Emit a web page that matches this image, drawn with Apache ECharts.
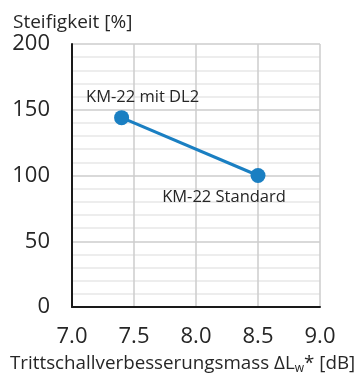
<!DOCTYPE html>
<html>
<head>
<meta charset="utf-8">
<script src="https://cdn.jsdelivr.net/npm/echarts@6/dist/echarts.min.js"></script>
<style>
  html, body { margin: 0; padding: 0; background: #fff; }
  #chart { width: 357px; height: 376px; }
</style>
</head>
<body>
<div id="chart"></div>
<script>
// Stiffness vs. impact sound improvement for two KM-22 variants
const pointNames = ['KM-22 mit DL2', 'KM-22 Standard'];
const soundImprovement = [7.4, 8.5];   // ΔLw* [dB]
const stiffness = [144, 100];          // [%]
const labelOffsets = [[21, -20], [-34, 22]];

const xTicks = { min: 7.0, max: 9.0, interval: 0.5 };
const yTicks = { min: 0, max: 200, interval: 50 };

const FONT = '"Open Sans", "Noto Sans", sans-serif';
const TEXT = '#262626';
const BLUE = '#1a7fc2';

const chart = echarts.init(document.getElementById('chart'), null, { renderer: 'canvas' });

const seriesData = pointNames.map((name, i) => ({
  name: name,
  value: [soundImprovement[i], stiffness[i]],
  label: { offset: labelOffsets[i] }
}));

chart.setOption({
  animation: false,
  backgroundColor: '#fff',
  title: [{
    // y-axis caption
    text: 'Steifigkeit [%]',
    left: 8,
    top: 8,
    textStyle: { fontFamily: FONT, fontSize: 19, fontWeight: 'normal', color: TEXT }
  }, {
    // x-axis caption with subscript w
    text: '{a|Trittschallverbesserungsmass ΔL}{s|w}{a|* [dB]}',
    left: 5,
    top: 348,
    textStyle: {
      fontWeight: 'normal',
      rich: {
        a: { fontFamily: FONT, fontSize: 18.8, fontWeight: 'normal', color: TEXT },
        s: { fontFamily: FONT, fontSize: 12, fontWeight: 'normal', color: TEXT, padding: [10, 0, 0, 0] }
      }
    }
  }],
  grid: { left: 72, right: 37, top: 44, bottom: 69, outerBoundsMode: 'none', containLabel: false },
  xAxis: {
    type: 'value',
    min: xTicks.min,
    max: xTicks.max,
    interval: xTicks.interval,
    axisLine: { show: true, lineStyle: { color: '#1a1a1a', width: 2 } },
    axisTick: { show: false },
    axisLabel: {
      margin: 19,
      fontFamily: FONT, fontSize: 22, color: TEXT,
      formatter: v => v.toFixed(1)
    },
    splitLine: { show: true, lineStyle: { color: '#cccccc', width: 1.5 } }
  },
  yAxis: {
    type: 'value',
    min: yTicks.min,
    max: yTicks.max,
    interval: yTicks.interval,
    axisLine: { show: true, lineStyle: { color: '#1a1a1a', width: 2 } },
    axisTick: { show: false },
    axisLabel: { margin: 22, fontFamily: FONT, fontSize: 22, color: TEXT },
    splitLine: { show: true, lineStyle: { color: '#cccccc', width: 1.5 } },
    minorTick: { show: false, splitNumber: 5 },
    minorSplitLine: { show: true, lineStyle: { color: '#e8e8e8', width: 1.5 } }
  },
  series: [{
    type: 'line',
    data: seriesData,
    symbol: 'circle',
    symbolSize: 15,
    lineStyle: { color: BLUE, width: 3 },
    itemStyle: { color: BLUE },
    label: {
      show: true,
      position: 'inside',
      formatter: p => p.name,
      fontFamily: FONT,
      fontSize: 16.5,
      color: TEXT
    }
  }]
});
</script>
</body>
</html>
